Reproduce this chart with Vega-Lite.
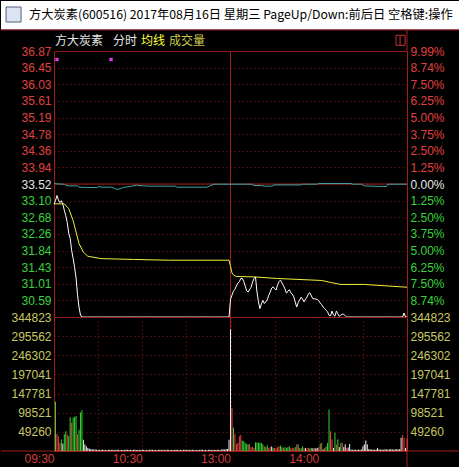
{
  "$schema": "https://vega.github.io/schema/vega-lite/v6.json",
  "background": "#000000",
  "padding": 0,
  "autosize": {"type": "pad"},
  "spacing": 0,
  "bounds": "flush",
  "config": {
    "view": {"stroke": "#a01e1e", "strokeWidth": 1},
    "axis": {"labelFont": "Liberation Sans", "labelFontSize": 12, "ticks": false, "domain": false, "title": null, "labelPadding": 3, "gridColor": "#8c1414", "gridDash": [1, 3], "gridWidth": 1, "labelOverlap": false}
  },
  "datasets": {
    "min": [
      {"t":0,"p":33.01,"v":0,"c":"flat"},{"t":1,"p":33.10,"v":127000,"c":"down"},{"t":2,"p":33.23,"v":44000,"c":"up"},{"t":3,"p":33.12,"v":38000,"c":"up"},{"t":4,"p":33.05,"v":21000,"c":"up"},{"t":5,"p":33.10,"v":30000,"c":"down"},{"t":6,"p":33.01,"v":19000,"c":"flat"},{"t":7,"p":32.86,"v":43000,"c":"down"},{"t":8,"p":32.72,"v":51000,"c":"down"},{"t":9,"p":32.55,"v":43000,"c":"up"},
      {"t":10,"p":32.28,"v":38000,"c":"down"},{"t":11,"p":32.15,"v":87000,"c":"down"},{"t":12,"p":31.85,"v":73000,"c":"up"},{"t":13,"p":31.65,"v":86000,"c":"down"},{"t":14,"p":31.42,"v":88000,"c":"down"},{"t":15,"p":31.15,"v":90000,"c":"down"},{"t":16,"p":30.72,"v":43000,"c":"up"},{"t":17,"p":30.42,"v":55000,"c":"down"},{"t":18,"p":30.22,"v":99000,"c":"down"},{"t":19,"p":30.17,"v":105000,"c":"down"},
      {"t":20,"p":30.17,"v":29000,"c":"flat"},{"t":21,"p":30.17,"v":17000,"c":"flat"},{"t":22,"p":30.17,"v":12000,"c":"flat"},{"t":23,"p":30.17,"v":8000,"c":"flat"},{"t":24,"p":30.17,"v":6000,"c":"flat"},{"t":25,"p":30.17,"v":5000,"c":"flat"},{"t":26,"p":30.17,"v":4500,"c":"flat"},{"t":27,"p":30.17,"v":4000,"c":"flat"},{"t":28,"p":30.17,"v":4000,"c":"flat"},{"t":29,"p":30.17,"v":3500,"c":"flat"},
      {"t":30,"p":30.17,"v":3000,"c":"flat"},{"t":31,"p":30.17,"v":2500,"c":"flat"},{"t":32,"p":30.17,"v":3000,"c":"flat"},{"t":33,"p":30.17,"v":3500,"c":"flat"},{"t":34,"p":30.17,"v":2500,"c":"flat"},{"t":35,"p":30.17,"v":3000,"c":"flat"},{"t":36,"p":30.17,"v":2000,"c":"flat"},{"t":37,"p":30.17,"v":3000,"c":"flat"},{"t":38,"p":30.17,"v":3500,"c":"flat"},{"t":39,"p":30.17,"v":2500,"c":"flat"},
      {"t":40,"p":30.17,"v":3000,"c":"flat"},{"t":41,"p":30.17,"v":3000,"c":"flat"},{"t":42,"p":30.17,"v":2500,"c":"flat"},{"t":43,"p":30.17,"v":3500,"c":"flat"},{"t":44,"p":30.17,"v":3000,"c":"flat"},{"t":45,"p":30.17,"v":2000,"c":"flat"},{"t":46,"p":30.17,"v":3000,"c":"flat"},{"t":47,"p":30.17,"v":2500,"c":"flat"},{"t":48,"p":30.17,"v":3000,"c":"flat"},{"t":49,"p":30.17,"v":3500,"c":"flat"},
      {"t":50,"p":30.17,"v":3000,"c":"flat"},{"t":51,"p":30.17,"v":2500,"c":"flat"},{"t":52,"p":30.17,"v":3000,"c":"flat"},{"t":53,"p":30.17,"v":2000,"c":"flat"},{"t":54,"p":30.17,"v":3000,"c":"flat"},{"t":55,"p":30.17,"v":3500,"c":"flat"},{"t":56,"p":30.17,"v":2500,"c":"flat"},{"t":57,"p":30.17,"v":3000,"c":"flat"},{"t":58,"p":30.17,"v":3000,"c":"flat"},{"t":59,"p":30.17,"v":2500,"c":"flat"},
      {"t":60,"p":30.17,"v":3500,"c":"flat"},{"t":61,"p":30.17,"v":3000,"c":"flat"},{"t":62,"p":30.17,"v":2000,"c":"flat"},{"t":63,"p":30.17,"v":3000,"c":"flat"},{"t":64,"p":30.17,"v":2500,"c":"flat"},{"t":65,"p":30.17,"v":3000,"c":"flat"},{"t":66,"p":30.17,"v":3500,"c":"flat"},{"t":67,"p":30.17,"v":3000,"c":"flat"},{"t":68,"p":30.17,"v":2500,"c":"flat"},{"t":69,"p":30.17,"v":3000,"c":"flat"},
      {"t":70,"p":30.17,"v":2000,"c":"flat"},{"t":71,"p":30.17,"v":3000,"c":"flat"},{"t":72,"p":30.17,"v":3500,"c":"flat"},{"t":73,"p":30.17,"v":2500,"c":"flat"},{"t":74,"p":30.17,"v":3000,"c":"flat"},{"t":75,"p":30.17,"v":3000,"c":"flat"},{"t":76,"p":30.17,"v":2500,"c":"flat"},{"t":77,"p":30.17,"v":3500,"c":"flat"},{"t":78,"p":30.17,"v":3000,"c":"flat"},{"t":79,"p":30.17,"v":2000,"c":"flat"},
      {"t":80,"p":30.17,"v":3000,"c":"flat"},{"t":81,"p":30.17,"v":2500,"c":"flat"},{"t":82,"p":30.17,"v":3000,"c":"flat"},{"t":83,"p":30.17,"v":3500,"c":"flat"},{"t":84,"p":30.17,"v":3000,"c":"flat"},{"t":85,"p":30.17,"v":2500,"c":"flat"},{"t":86,"p":30.17,"v":3000,"c":"flat"},{"t":87,"p":30.17,"v":2000,"c":"flat"},{"t":88,"p":30.17,"v":3000,"c":"flat"},{"t":89,"p":30.17,"v":3500,"c":"flat"},
      {"t":90,"p":30.17,"v":2500,"c":"flat"},{"t":91,"p":30.17,"v":3000,"c":"flat"},{"t":92,"p":30.17,"v":3000,"c":"flat"},{"t":93,"p":30.17,"v":2500,"c":"flat"},{"t":94,"p":30.17,"v":3500,"c":"flat"},{"t":95,"p":30.17,"v":3000,"c":"flat"},{"t":96,"p":30.17,"v":2000,"c":"flat"},{"t":97,"p":30.17,"v":3000,"c":"flat"},{"t":98,"p":30.17,"v":2500,"c":"flat"},{"t":99,"p":30.17,"v":3000,"c":"flat"},
      {"t":100,"p":30.17,"v":3500,"c":"flat"},{"t":101,"p":30.17,"v":3000,"c":"flat"},{"t":102,"p":30.17,"v":2500,"c":"flat"},{"t":103,"p":30.17,"v":3000,"c":"flat"},{"t":104,"p":30.17,"v":2000,"c":"flat"},{"t":105,"p":30.17,"v":3000,"c":"flat"},{"t":106,"p":30.17,"v":3500,"c":"flat"},{"t":107,"p":30.17,"v":2500,"c":"flat"},{"t":108,"p":30.17,"v":3000,"c":"flat"},{"t":109,"p":30.17,"v":3000,"c":"flat"},
      {"t":110,"p":30.17,"v":2500,"c":"flat"},{"t":111,"p":30.17,"v":3500,"c":"flat"},{"t":112,"p":30.17,"v":3000,"c":"flat"},{"t":113,"p":30.17,"v":2000,"c":"flat"},{"t":114,"p":30.17,"v":4000,"c":"flat"},{"t":115,"p":30.17,"v":4500,"c":"flat"},{"t":116,"p":30.17,"v":4000,"c":"flat"},{"t":117,"p":30.17,"v":5000,"c":"flat"},{"t":118,"p":30.17,"v":5000,"c":"flat"},{"t":119,"p":30.17,"v":29000,"c":"flat"},
      {"t":120,"p":30.62,"v":313000,"c":"flat"},{"t":121,"p":30.72,"v":111000,"c":"up"},{"t":122,"p":30.82,"v":60000,"c":"down"},{"t":123,"p":30.87,"v":44000,"c":"up"},{"t":124,"p":30.95,"v":18000,"c":"up"},{"t":125,"p":31.02,"v":21000,"c":"up"},{"t":126,"p":31.06,"v":38000,"c":"up"},{"t":127,"p":31.14,"v":41000,"c":"up"},{"t":128,"p":31.14,"v":27000,"c":"down"},{"t":129,"p":31.07,"v":25000,"c":"down"},
      {"t":130,"p":30.95,"v":21000,"c":"down"},{"t":131,"p":30.83,"v":18000,"c":"down"},{"t":132,"p":30.80,"v":17000,"c":"down"},{"t":133,"p":30.86,"v":18000,"c":"up"},{"t":134,"p":30.92,"v":10000,"c":"up"},{"t":135,"p":31.05,"v":10000,"c":"up"},{"t":136,"p":31.14,"v":8000,"c":"up"},{"t":137,"p":31.18,"v":22000,"c":"down"},{"t":138,"p":30.80,"v":22000,"c":"down"},{"t":139,"p":30.55,"v":21000,"c":"down"},
      {"t":140,"p":30.38,"v":21000,"c":"down"},{"t":141,"p":30.50,"v":21000,"c":"down"},{"t":142,"p":30.59,"v":17000,"c":"down"},{"t":143,"p":30.51,"v":12000,"c":"up"},{"t":144,"p":30.55,"v":10000,"c":"down"},{"t":145,"p":30.60,"v":15000,"c":"down"},{"t":146,"p":30.72,"v":8000,"c":"up"},{"t":147,"p":30.80,"v":10000,"c":"up"},{"t":148,"p":30.90,"v":12000,"c":"flat"},{"t":149,"p":30.93,"v":8000,"c":"down"},
      {"t":150,"p":30.88,"v":8000,"c":"up"},{"t":151,"p":30.85,"v":7000,"c":"up"},{"t":152,"p":30.98,"v":10000,"c":"up"},{"t":153,"p":31.06,"v":12000,"c":"up"},{"t":154,"p":31.10,"v":14000,"c":"down"},{"t":155,"p":31.03,"v":10000,"c":"down"},{"t":156,"p":30.96,"v":8000,"c":"up"},{"t":157,"p":30.88,"v":10000,"c":"down"},{"t":158,"p":30.77,"v":8000,"c":"down"},{"t":159,"p":30.82,"v":10000,"c":"down"},
      {"t":160,"p":30.86,"v":12000,"c":"down"},{"t":161,"p":30.78,"v":7000,"c":"up"},{"t":162,"p":30.75,"v":8000,"c":"up"},{"t":163,"p":30.68,"v":7000,"c":"up"},{"t":164,"p":30.55,"v":10000,"c":"down"},{"t":165,"p":30.42,"v":17000,"c":"up"},{"t":166,"p":30.53,"v":17000,"c":"down"},{"t":167,"p":30.60,"v":8000,"c":"up"},{"t":168,"p":30.67,"v":7000,"c":"down"},{"t":169,"p":30.62,"v":12000,"c":"down"},
      {"t":170,"p":30.55,"v":8000,"c":"up"},{"t":171,"p":30.62,"v":7000,"c":"flat"},{"t":172,"p":30.67,"v":8000,"c":"up"},{"t":173,"p":30.76,"v":8000,"c":"up"},{"t":174,"p":30.78,"v":7000,"c":"down"},{"t":175,"p":30.70,"v":8000,"c":"down"},{"t":176,"p":30.63,"v":7000,"c":"flat"},{"t":177,"p":30.63,"v":8000,"c":"up"},{"t":178,"p":30.62,"v":7000,"c":"flat"},{"t":179,"p":30.61,"v":8000,"c":"flat"},
      {"t":180,"p":30.58,"v":10000,"c":"up"},{"t":181,"p":30.52,"v":19000,"c":"down"},{"t":182,"p":30.48,"v":21000,"c":"up"},{"t":183,"p":30.42,"v":4000,"c":"flat"},{"t":184,"p":30.38,"v":8000,"c":"up"},{"t":185,"p":30.34,"v":12000,"c":"down"},{"t":186,"p":30.30,"v":21000,"c":"down"},{"t":187,"p":30.21,"v":107000,"c":"down"},{"t":188,"p":30.20,"v":51000,"c":"up"},{"t":189,"p":30.32,"v":30000,"c":"up"},
      {"t":190,"p":30.22,"v":8000,"c":"flat"},{"t":191,"p":30.19,"v":47000,"c":"down"},{"t":192,"p":30.32,"v":17000,"c":"up"},{"t":193,"p":30.25,"v":30000,"c":"down"},{"t":194,"p":30.19,"v":10000,"c":"flat"},{"t":195,"p":30.22,"v":21000,"c":"down"},{"t":196,"p":30.24,"v":21000,"c":"up"},{"t":197,"p":30.24,"v":10000,"c":"flat"},{"t":198,"p":30.20,"v":17000,"c":"flat"},{"t":199,"p":30.17,"v":8000,"c":"up"},
      {"t":200,"p":30.17,"v":9000,"c":"flat"},{"t":201,"p":30.17,"v":18000,"c":"flat"},{"t":202,"p":30.17,"v":4000,"c":"flat"},{"t":203,"p":30.17,"v":3000,"c":"flat"},{"t":204,"p":30.17,"v":3500,"c":"flat"},{"t":205,"p":30.17,"v":3000,"c":"flat"},{"t":206,"p":30.17,"v":3000,"c":"flat"},{"t":207,"p":30.17,"v":3500,"c":"flat"},{"t":208,"p":30.17,"v":3000,"c":"flat"},{"t":209,"p":30.17,"v":4000,"c":"flat"},
      {"t":210,"p":30.17,"v":12000,"c":"flat"},{"t":211,"p":30.17,"v":17000,"c":"flat"},{"t":212,"p":30.17,"v":27000,"c":"flat"},{"t":213,"p":30.17,"v":17000,"c":"flat"},{"t":214,"p":30.17,"v":5000,"c":"flat"},{"t":215,"p":30.17,"v":4000,"c":"flat"},{"t":216,"p":30.17,"v":3500,"c":"flat"},{"t":217,"p":30.17,"v":4000,"c":"flat"},{"t":218,"p":30.17,"v":3000,"c":"flat"},{"t":219,"p":30.17,"v":4000,"c":"flat"},
      {"t":220,"p":30.17,"v":8000,"c":"flat"},{"t":221,"p":30.17,"v":4000,"c":"flat"},{"t":222,"p":30.17,"v":3500,"c":"flat"},{"t":223,"p":30.17,"v":4000,"c":"flat"},{"t":224,"p":30.17,"v":3000,"c":"flat"},{"t":225,"p":30.17,"v":4500,"c":"flat"},{"t":226,"p":30.17,"v":4000,"c":"flat"},{"t":227,"p":30.17,"v":3500,"c":"flat"},{"t":228,"p":30.17,"v":4000,"c":"flat"},{"t":229,"p":30.17,"v":5000,"c":"flat"},
      {"t":230,"p":30.17,"v":4000,"c":"flat"},{"t":231,"p":30.17,"v":3500,"c":"flat"},{"t":232,"p":30.17,"v":4000,"c":"flat"},{"t":233,"p":30.17,"v":5000,"c":"flat"},{"t":234,"p":30.17,"v":4000,"c":"flat"},{"t":235,"p":30.17,"v":4500,"c":"flat"},{"t":236,"p":30.17,"v":34000,"c":"flat"},{"t":237,"p":30.17,"v":41000,"c":"up"},{"t":238,"p":30.27,"v":34000,"c":"up"},{"t":239,"p":30.17,"v":8000,"c":"flat"},
      {"t":240,"p":30.17,"v":32000,"c":"up"}
    ],
    "avg": [
      {"t":0,"a":33.02},{"t":7,"a":33.02},{"t":10,"a":32.90},{"t":13,"a":32.60},{"t":15,"a":32.31},{"t":17,"a":32.02},{"t":20,"a":31.80},{"t":23,"a":31.70},{"t":32,"a":31.64},{"t":54,"a":31.62},{"t":78,"a":31.60},{"t":119,"a":31.60},{"t":120,"a":31.45},{"t":121,"a":31.28},{"t":122,"a":31.23},{"t":124,"a":31.19},{"t":136,"a":31.18},{"t":152,"a":31.14},{"t":182,"a":31.09},{"t":188,"a":31.04},{"t":195,"a":30.99},{"t":211,"a":30.99},{"t":240,"a":30.92}
    ],
    "idx": [
      {"t":0,"v":33.533},{"t":3,"v":33.52},{"t":7,"v":33.515},{"t":8,"v":33.49},{"t":10,"v":33.472},{"t":16,"v":33.472},{"t":17,"v":33.44},{"t":22,"v":33.432},{"t":29,"v":33.432},{"t":31,"v":33.457},{"t":32,"v":33.44},{"t":39,"v":33.44},{"t":41,"v":33.414},{"t":43,"v":33.381},{"t":46,"v":33.414},{"t":48,"v":33.44},{"t":52,"v":33.457},{"t":56,"v":33.49},{"t":61,"v":33.472},{"t":66,"v":33.465},{"t":82,"v":33.465},{"t":84,"v":33.44},{"t":104,"v":33.44},{"t":107,"v":33.49},{"t":109,"v":33.515},{"t":134,"v":33.515},{"t":136,"v":33.482},{"t":141,"v":33.482},{"t":143,"v":33.465},{"t":148,"v":33.465},{"t":150,"v":33.497},{"t":168,"v":33.497},{"t":169,"v":33.515},{"t":179,"v":33.515},{"t":180,"v":33.533},{"t":202,"v":33.533},{"t":203,"v":33.515},{"t":209,"v":33.515},{"t":211,"v":33.472},{"t":216,"v":33.465},{"t":226,"v":33.457},{"t":227,"v":33.515},{"t":240,"v":33.515}
    ],
    "marks": [{"t":2.0},{"t":38.8}]
  },
  "vconcat": [
    {
      "width": 353,
      "height": 266,
      "data": {"name": "min"},
      "resolve": {"axis": {"y": "independent"}},
      "layer": [
        {
          "data": {"values": [{}]},
          "mark": {"type": "rect", "fill": "#ffffff"},
          "encoding": {
            "x": {"datum": -36.03, "type": "quantitative", "axis": null},
            "x2": {"datum": 276.03},
            "y": {"datum": 38.13, "type": "quantitative", "axis": null},
            "y2": {"datum": 37.411}
          }
        },
        {
          "data": {"values": [{}]},
          "mark": {"type": "rect", "fill": "#dce4f4", "stroke": "#50607a", "strokeWidth": 1},
          "encoding": {
            "x": {"datum": -32.6, "type": "quantitative", "axis": null},
            "x2": {"datum": -22.4},
            "y": {"datum": 37.978, "type": "quantitative", "axis": null},
            "y2": {"datum": 37.60}
          }
        },
        {
          "data": {"values": [{}]},
          "mark": {"type": "text", "align": "left", "baseline": "middle", "font": "Noto Sans CJK SC", "fontSize": 12.25, "color": "#000000"},
          "encoding": {
            "x": {"datum": -17.0, "type": "quantitative", "axis": null},
            "y": {"datum": 37.777, "type": "quantitative", "axis": null},
            "text": {"value": "方大炭素(600516) 2017年08月16日 星期三 PageUp/Down:前后日 空格键:操作"}
          }
        },
        {
          "data": {"values": [{}]},
          "mark": {"type": "rule", "color": "#a01e1e"},
          "encoding": {
            "x": {"datum": -36.03, "type": "quantitative", "axis": null},
            "x2": {"datum": 276.03},
            "y": {"datum": 37.399, "type": "quantitative", "axis": null}
          }
        },
        {
          "data": {"values": [{}]},
          "mark": {"type": "rule", "color": "#a01e1e"},
          "encoding": {
            "x": {"datum": 240, "type": "quantitative", "axis": null},
            "y": {"datum": 37.399, "type": "quantitative", "axis": null},
            "y2": {"datum": 36.87}
          }
        },
        {
          "data": {"values": [{}]},
          "mark": {"type": "text", "align": "left", "baseline": "middle", "font": "Noto Sans CJK SC", "fontSize": 12, "color": "#e6e6e6"},
          "encoding": {
            "x": {"datum": 0.7, "type": "quantitative", "axis": null},
            "y": {"datum": 37.122, "type": "quantitative", "axis": null},
            "text": {"value": "方大炭素"}
          }
        },
        {
          "data": {"values": [{}]},
          "mark": {"type": "text", "align": "left", "baseline": "middle", "font": "Noto Sans CJK SC", "fontSize": 12, "color": "#e6e6e6"},
          "encoding": {
            "x": {"datum": 40.1, "type": "quantitative", "axis": null},
            "y": {"datum": 37.122, "type": "quantitative", "axis": null},
            "text": {"value": "分时"}
          }
        },
        {
          "data": {"values": [{}]},
          "mark": {"type": "text", "align": "left", "baseline": "middle", "font": "Noto Sans CJK SC", "fontSize": 12, "color": "#ffff3c"},
          "encoding": {
            "x": {"datum": 59.2, "type": "quantitative", "axis": null},
            "y": {"datum": 37.122, "type": "quantitative", "axis": null},
            "text": {"value": "均线"}
          }
        },
        {
          "data": {"values": [{}]},
          "mark": {"type": "text", "align": "left", "baseline": "middle", "font": "Noto Sans CJK SC", "fontSize": 12, "color": "#c8c850"},
          "encoding": {
            "x": {"datum": 78.2, "type": "quantitative", "axis": null},
            "y": {"datum": 37.122, "type": "quantitative", "axis": null},
            "text": {"value": "成交量"}
          }
        },
        {
          "data": {"values": [{}]},
          "mark": {"type": "rect", "fill": null, "stroke": "#c83232", "strokeWidth": 1},
          "encoding": {
            "x": {"datum": 232.5, "type": "quantitative", "axis": null},
            "x2": {"datum": 238.7},
            "y": {"datum": 37.265, "type": "quantitative", "axis": null},
            "y2": {"datum": 37.013}
          }
        },
        {
          "data": {"values": [{}]},
          "mark": {"type": "rule", "color": "#c83232"},
          "encoding": {
            "x": {"datum": 235.3, "type": "quantitative", "axis": null},
            "y": {"datum": 37.265, "type": "quantitative", "axis": null},
            "y2": {"datum": 37.013}
          }
        },
        {
          "data": {"values": [{}]},
          "mark": {"type": "rule", "color": "#a01e1e"},
          "encoding": {
            "y": {"datum": 33.52, "type": "quantitative", "axis": null}
          }
        },
        {
          "data": {"values": [{}]},
          "mark": {"type": "rule", "color": "#a01e1e"},
          "encoding": {
            "x": {"datum": 120, "type": "quantitative", "axis": null},
            "y": {"datum": 30.17, "type": "quantitative", "axis": null},
            "y2": {"datum": 36.87}
          }
        },
        {
          "data": {"name": "marks"},
          "mark": {"type": "point", "shape": "cross", "angle": 45, "filled": true, "size": 18, "color": "#e040e0", "opacity": 1},
          "encoding": {
            "x": {"field": "t", "type": "quantitative", "axis": null},
            "y": {"datum": 36.656, "type": "quantitative", "axis": null}
          }
        },
        {
          "data": {"name": "idx"},
          "mark": {"type": "line", "color": "#40a4a4", "strokeWidth": 1},
          "encoding": {
            "x": {"field": "t", "type": "quantitative", "axis": null},
            "y": {"field": "v", "type": "quantitative", "axis": null}
          }
        },
        {
          "data": {"name": "avg"},
          "mark": {"type": "line", "color": "#f0f03c", "strokeWidth": 1},
          "encoding": {
            "x": {"field": "t", "type": "quantitative", "axis": null},
            "y": {
              "field": "a",
              "type": "quantitative",
              "axis": {
                "orient": "right",
                "grid": false,
                "values": [36.87, 36.451, 36.033, 35.614, 35.194, 34.776, 34.357, 33.939, 33.52, 33.101, 32.683, 32.264, 31.8449, 31.426, 31.008, 30.589],
                "labelExpr": "['0.00%','1.25%','2.50%','3.75%','5.00%','6.25%','7.50%','8.74%','9.99%'][round(abs(datum.value - 33.52) / 0.41875)]",
                "labelColor": {"condition": [{"test": "datum.value > 33.53", "value": "#e04040"}, {"test": "datum.value > 33.51", "value": "#e6e6e6"}], "value": "#3cd23c"}
              }
            }
          }
        },
        {
          "mark": {"type": "line", "color": "#ffffff", "strokeWidth": 1},
          "encoding": {
            "x": {
              "field": "t",
              "type": "quantitative",
              "scale": {"domain": [0, 240], "nice": false, "zero": false},
              "axis": {"values": [30, 60, 90, 150, 180, 210], "grid": true, "labels": false}
            },
            "y": {
              "field": "p",
              "type": "quantitative",
              "scale": {"domain": [30.17, 36.87], "nice": false, "zero": false},
              "axis": {
                "orient": "left",
                "grid": true,
                "values": [36.87, 36.451, 36.033, 35.614, 35.194, 34.776, 34.357, 33.939, 33.52, 33.101, 32.683, 32.264, 31.8449, 31.426, 31.008, 30.589],
                "format": ".2f",
                "labelColor": {"condition": [{"test": "datum.value > 33.53", "value": "#e04040"}, {"test": "datum.value > 33.51", "value": "#e6e6e6"}], "value": "#3cd23c"}
              }
            }
          }
        }
      ]
    },
    {
      "width": 353,
      "height": 134,
      "data": {"name": "min"},
      "resolve": {"axis": {"y": "independent"}},
      "layer": [
        {
          "data": {"values": [{}]},
          "mark": {"type": "rule", "color": "#a01e1e"},
          "encoding": {
            "x": {"datum": -36.03, "type": "quantitative"},
            "x2": {"datum": 276.03},
            "y": {
              "datum": 0,
              "type": "quantitative",
              "axis": {
                "orient": "right",
                "grid": false,
                "values": [49260, 98521, 147781, 197041, 246302, 295562, 344823],
                "format": "d",
                "labelColor": "#c8c864"
              }
            }
          }
        },
        {
          "data": {"values": [{}]},
          "mark": {"type": "rule", "color": "#a01e1e"},
          "encoding": {
            "x": {"datum": 240, "type": "quantitative"},
            "y": {"datum": 0, "type": "quantitative", "axis": null},
            "y2": {"datum": -43700}
          }
        },
        {
          "data": {"values": [{}]},
          "mark": {"type": "rule", "color": "#a01e1e"},
          "encoding": {
            "x": {"datum": 120, "type": "quantitative"},
            "y": {"datum": 0, "type": "quantitative", "axis": null},
            "y2": {"datum": 344823}
          }
        },
        {
          "mark": {"type": "rule", "strokeWidth": 1},
          "encoding": {
            "x": {
              "field": "t",
              "type": "quantitative",
              "scale": {"domain": [0, 240], "nice": false, "zero": false},
              "axis": {
                "orient": "bottom",
                "values": [0, 30, 60, 90, 120, 150, 180, 210],
                "grid": true,
                "labels": true,
                "labelExpr": "datum.value == 0 ? '09:30' : datum.value == 60 ? '10:30' : datum.value == 120 ? '13:00' : datum.value == 180 ? '14:00' : ''",
                "labelAlign": "right",
                "labelBaseline": "top",
                "labelFlush": false,
                "labelPadding": 2,
                "labelColor": "#d23c3c"
              }
            },
            "y": {
              "field": "v",
              "type": "quantitative",
              "scale": {"domain": [0, 344823], "nice": false, "zero": true},
              "axis": {
                "orient": "left",
                "grid": true,
                "values": [49260, 98521, 147781, 197041, 246302, 295562, 344823],
                "format": "d",
                "labelColor": "#c8c864"
              }
            },
            "y2": {"datum": 0},
            "color": {
              "field": "c",
              "type": "nominal",
              "scale": {"domain": ["up", "down", "flat"], "range": ["#e64646", "#32d732", "#f0f0f0"]},
              "legend": null
            }
          }
        }
      ]
    }
  ]
}
